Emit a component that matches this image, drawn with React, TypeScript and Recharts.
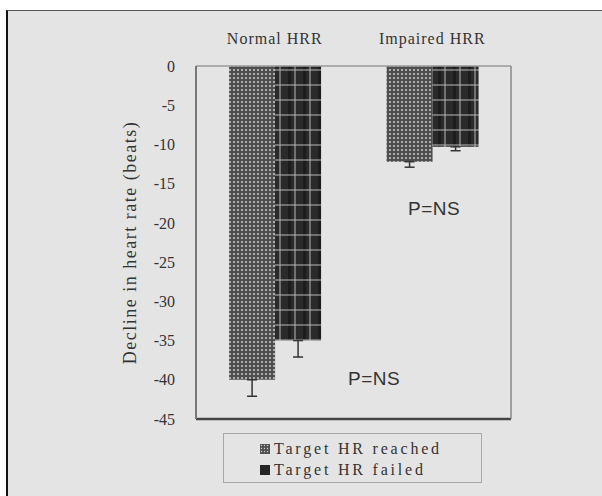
import React from "react";
import {
  BarChart,
  Bar,
  XAxis,
  YAxis,
  ErrorBar,
  ReferenceLine,
} from "recharts";

const groups = ["Normal HRR", "Impaired HRR"];
const reached = [-40, -12.2];
const failed = [-35, -10.3];
const reachedErr = [2.1, 0.7];
const failedErr = [2.1, 0.5];
const yTicks = [0, -5, -10, -15, -20, -25, -30, -35, -40, -45];
const seriesNames = ["Target HR reached", "Target HR failed"];

const data = groups.map((g, i) => ({
  group: g,
  reached: reached[i],
  failed: failed[i],
  reachedErr: [reachedErr[i], 0],
  failedErr: [failedErr[i], 0],
}));

const serif = '"Liberation Serif", "DejaVu Serif", serif';
const sans = '"Liberation Sans", Arial, sans-serif';
const textColor = "#333";

function YLabel({ viewBox }: any) {
  const x = viewBox.x - 6;
  const y = viewBox.y + viewBox.height / 2;
  return (
    <text
      x={x}
      y={y}
      transform={`rotate(-90, ${x}, ${y})`}
      textAnchor="middle"
      dominantBaseline="central"
      fontFamily={serif}
      fontSize={18}
      letterSpacing={1.5}
      fill={textColor}
    >
      Decline in heart rate (beats)
    </text>
  );
}

function ChartLegend() {
  return (
    <div
      style={{
        position: "absolute",
        left: 223,
        top: 433,
        border: "1px solid #a8a8a8",
        width: 259,
        height: 50,
        boxSizing: "border-box",
        padding: "4px 0 0 36px",
        fontFamily: serif,
        fontSize: 16,
        color: textColor,
        letterSpacing: 2.8,
        whiteSpace: "nowrap",
      }}
    >
      {seriesNames.map((name, i) => (
        <div key={name} style={{ display: "flex", alignItems: "center", height: 21 }}>
          <svg width={10} height={10} style={{ marginRight: 4 }}>
            <rect width={10} height={10} fill={i === 0 ? "url(#dotsLeg)" : "#262626"} />
          </svg>
          <span>{name}</span>
        </div>
      ))}
    </div>
  );
}

export default function App() {
  return (
    <div
      style={{
        position: "absolute",
        left: 0,
        top: 0,
        width: 602,
        height: 496,
        background: "#fff",
        overflow: "hidden",
      }}
    >
      <div
        style={{
          position: "absolute",
          left: 6,
          top: 10,
          right: 0,
          bottom: 0,
          background: "#e4e4e4",
          borderLeft: "2px solid #111",
          borderTop: "1px solid #555",
        }}
      />
      <svg width={0} height={0} style={{ position: "absolute" }}>
        <defs>
          <pattern id="dotsLeg" width="3" height="3" patternUnits="userSpaceOnUse">
            <rect width="3" height="3" fill="#505050" />
            <circle cx="1.5" cy="1.5" r="0.7" fill="#ccc" />
          </pattern>
        </defs>
      </svg>
      <div style={{ position: "absolute", left: 0, top: 0 }}>
        <BarChart
          width={602}
          height={496}
          data={data}
          margin={{ top: 35, right: 90, bottom: 77, left: 136 }}
          barCategoryGap="21%"
          barGap={0}
        >
          <defs>
            <pattern id="dots" width="4" height="4" patternUnits="userSpaceOnUse">
              <rect width="4" height="4" fill="#4e4e4e" />
              <circle cx="2" cy="2" r="1" fill="#cfcfcf" />
            </pattern>
            <pattern id="grid" width="15" height="15" patternUnits="userSpaceOnUse">
              <rect width="15" height="15" fill="#2a2a2a" />
              <rect x="3" width="3" height="15" fill="#1c1c1c" />
              <path d="M10 0V15 M0 10H15" stroke="#b8b8b8" strokeWidth="1" />
            </pattern>
          </defs>
          <XAxis
            dataKey="group"
            orientation="top"
            height={31}
            axisLine={{ stroke: "#9a9a9a", strokeWidth: 1.5 }}
            tickLine={false}
            tickSize={0}
            tickMargin={22}
            tick={{ fontFamily: serif, fontSize: 16, fill: textColor, letterSpacing: 1 }}
          />
          <YAxis
            domain={[-45, 0]}
            ticks={yTicks}
            interval={0}
            width={60}
            axisLine={{ stroke: "#777", strokeWidth: 2 }}
            tickLine={false}
            tickMargin={15}
            tick={{ fontFamily: serif, fontSize: 16, fill: textColor }}
            label={<YLabel />}
          />
          <YAxis
            yAxisId="right"
            orientation="right"
            domain={[-45, 0]}
            width={1}
            tick={false}
            tickLine={false}
            axisLine={{ stroke: "#888", strokeWidth: 1.5 }}
          />
          <ReferenceLine y={-45} stroke="#444" strokeWidth={2.5} />
          <Bar dataKey="reached" fill="url(#dots)" isAnimationActive={false}>
            <ErrorBar dataKey="reachedErr" stroke="#333" strokeWidth={1.5} width={5} direction="y" />
          </Bar>
          <Bar dataKey="failed" fill="url(#grid)" isAnimationActive={false}>
            <ErrorBar dataKey="failedErr" stroke="#333" strokeWidth={1.5} width={5} direction="y" />
          </Bar>
        </BarChart>
      </div>
      <ChartLegend />
      <div
        style={{
          position: "absolute",
          left: 408,
          top: 198,
          fontFamily: sans,
          fontSize: 19,
          color: "#333",
          letterSpacing: 0.5,
        }}
      >
        P=NS
      </div>
      <div
        style={{
          position: "absolute",
          left: 348,
          top: 368,
          fontFamily: sans,
          fontSize: 19,
          color: "#333",
          letterSpacing: 0.5,
        }}
      >
        P=NS
      </div>
    </div>
  );
}
